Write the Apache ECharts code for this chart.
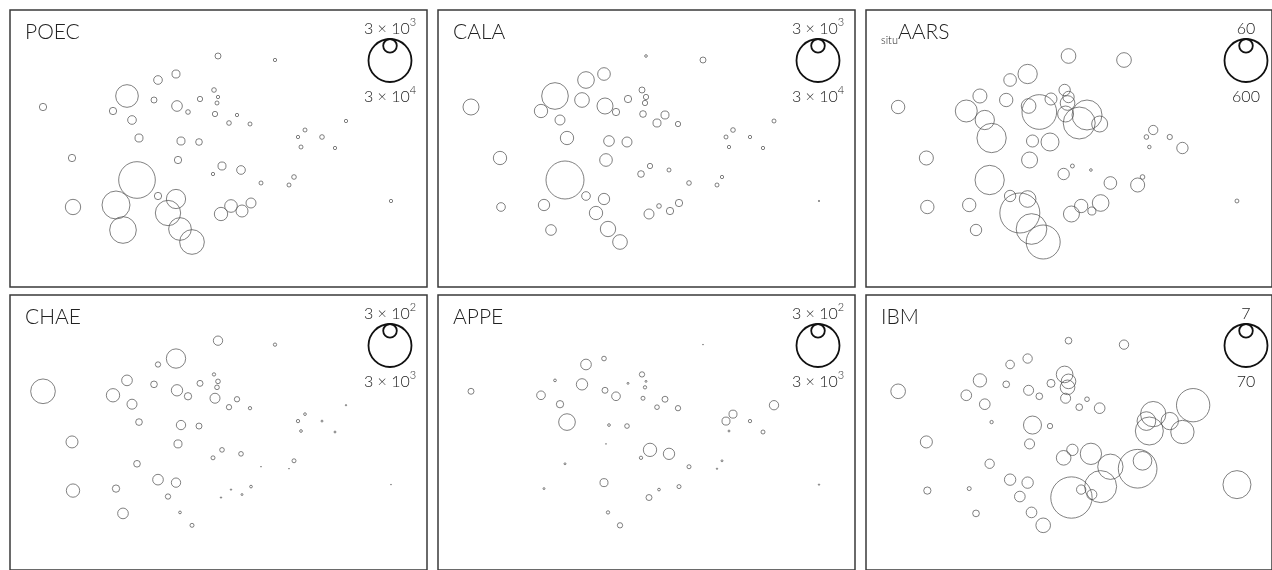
<!DOCTYPE html>
<html>
<head>
<meta charset="utf-8">
<script src="https://cdn.jsdelivr.net/npm/echarts@6/dist/echarts.min.js"></script>
<style>
html,body{margin:0;padding:0;background:#fff;}
#c{width:1272px;height:570px;}
</style>
</head>
<body>
<div id="c"></div>
<script>
// Shared bubble positions (same in every panel)
const xPos = [208,265,166,148,117,33,144,204,208,207,190,167,178,103,122,205,227,219,240,129,171,189,336,295,288,312,291,325,62,168,212,231,203,127,251,284,279,148,166,63,106,158,241,221,232,211,381,113,170,182];
const yPos = [231,227,213,207,191,180,187,197,190,184,188,181,175,176,167,173,172,164,163,149,146,145,166,157,150,150,140,139,129,127,121,117,113,107,104,110,102,91,88,80,82,74,84,81,76,73,86,57,58,45];

// Bubble values per panel
const poec = [580,180,1040,1220,8340,870,580,350,180,260,460,1850,350,870,1220,460,180,350,260,1040,1040,720,180,260,180,350,260,180,870,870,1040,1220,180,21800,260,350,260,870,6000,3820,12700,10400,1620,2600,2340,2880,180,11540,8340,9870];
const cala = [115,580,2600,4510,11540,4160,3490,580,460,460,870,4160,870,2880,1620,720,1040,1040,460,2880,1850,1620,260,350,260,180,180,180,2880,2600,460,260,720,23430,350,180,260,1220,2080,1220,2080,2880,870,350,870,1620,30,1850,3820,3490];
const aars = [70,70,121,52,64,58,58,42,42,70,47,70,390,157,121,83,292,332,83,279,47,105,0,28,7,9,4,42,64,83,5,2.3,42,279,52,7,64,42,90,58,58,519,90,58,21,83,5,42,305,375];
const chae = [141,18,607,46,185,987,72,18,35,35,58,208,87,288,162,162,46,46,18,72,141,58,3,12,18,6,12,6,234,104,35,35,26,72,1,26,1,185,141,288,87,46,12,3,6,3,1,185,12,26];
const appe = [0,1,35,185,12,58,208,46,6,18,6,58,122,122,87,26,58,35,46,451,12,35,141,104,104,18,6,26,0,1,288,208,18,6,26,6,3,0,104,0,6,0,26,12,0,58,3,0,18,46];
const ibm = [1.7,3.3,3.3,2.8,6.7,8.1,1.7,10.5,8.1,8.1,2.4,3.8,1.7,4.3,4.3,3.8,0.82,1.7,4.3,0.42,12.3,1.08,42,24.3,13.2,11.4,29.7,20.6,5.5,3.8,4.9,17.2,8.1,3.3,24.3,13.2,56.6,4.9,4.9,2.0,0.6,4.3,38.8,3.3,3.8,64.7,29.7,1.7,4.3,8.1];

const panelNames = ['POEC','CALA','AARS','CHAE','APPE','IBM'];
const panelSub = ['','','situ','','',''];
const panelValues = [poec, cala, aars, chae, appe, ibm];
const legendSmall = [3000,3000,60,300,300,7];
const legendBig = [30000,30000,600,3000,3000,70];

// layout
const PW = 417, PH = 277, R = 21.5;
const lefts = [10,438,866,10,438,866];
const tops = [10,10,10,295,295,295];

function fmt(v){
  const k = Math.log10(v/3);
  if (v >= 100 && Math.abs(k - Math.round(k)) < 1e-9) {
    return '{n|3 × 10}{s|' + Math.round(k) + '}';
  }
  return '{n|' + v + '}';
}

const grids = [], xAxes = [], yAxes = [], series = [], graphics = [];
const FONT = 'Lato, "DejaVu Sans", sans-serif';
for (let i = 0; i < 6; i++) {
  grids.push({left: lefts[i], top: tops[i], width: PW, height: PH, show: true,
    borderColor: '#3a3a3a', borderWidth: 1.5, backgroundColor: 'transparent', containLabel: false});
  xAxes.push({type: 'value', gridIndex: i, min: 0, max: PW, show: false});
  yAxes.push({type: 'value', gridIndex: i, min: 0, max: PH, show: false});
  const big = legendBig[i];
  const vals = panelValues[i];
  series.push({
    type: 'scatter', xAxisIndex: i, yAxisIndex: i, symbol: 'circle',
    data: xPos.map((x, j) => [x, yPos[j], vals[j]]),
    symbolSize: v => 2 * R * Math.sqrt(v[2] / big),
    itemStyle: {color: 'rgba(0,0,0,0)', borderColor: '#505050', borderWidth: 0.9},
    emphasis: {disabled: true}, silent: true, animation: false
  });
  // title
  const t = panelSub[i] ? '{sub|' + panelSub[i] + '}{m|' + panelNames[i] + '}' : '{m|' + panelNames[i] + '}';
  graphics.push({type: 'text', left: lefts[i] + 15, top: tops[i] + 12, silent: true,
    style: {text: t, fill: '#222', font: '300 20px ' + FONT,
      rich: {m: {fontSize: 21, fontWeight: 300, fontFamily: FONT, fill: '#222', lineHeight: 24, verticalAlign: 'bottom'},
             sub: {fontSize: 11, fontWeight: 300, fontFamily: FONT, fill: '#222', lineHeight: 24, verticalAlign: 'bottom', padding: [0,0,-3,0]}}}});
  // legend circles
  const cx = lefts[i] + 380, cy = tops[i] + 50.5;
  const rs = R * Math.sqrt(legendSmall[i] / big);
  graphics.push({type: 'circle', shape: {cx: cx, cy: cy, r: R}, silent: true,
    style: {fill: 'none', stroke: '#111', lineWidth: 1.8}});
  graphics.push({type: 'circle', shape: {cx: cx, cy: cy - R + rs, r: rs}, silent: true,
    style: {fill: 'none', stroke: '#111', lineWidth: 1.8}});
  const rich = {n: {fontSize: 16, fontWeight: 300, fontFamily: FONT, fill: '#222', lineHeight: 20, verticalAlign: 'bottom'},
                s: {fontSize: 11, fontWeight: 300, fontFamily: FONT, fill: '#222', lineHeight: 20, verticalAlign: 'top'}};
  graphics.push({type: 'text', x: cx, y: tops[i] + 17, silent: true,
    style: {text: fmt(legendSmall[i]), align: 'center', verticalAlign: 'middle', rich: rich}});
  graphics.push({type: 'text', x: cx, y: tops[i] + 85, silent: true,
    style: {text: fmt(big), align: 'center', verticalAlign: 'middle', rich: rich}});
}

const chart = echarts.init(document.getElementById('c'));
chart.setOption({animation: false, grid: grids, xAxis: xAxes, yAxis: yAxes, series: series, graphic: graphics});
</script>
</body>
</html>
